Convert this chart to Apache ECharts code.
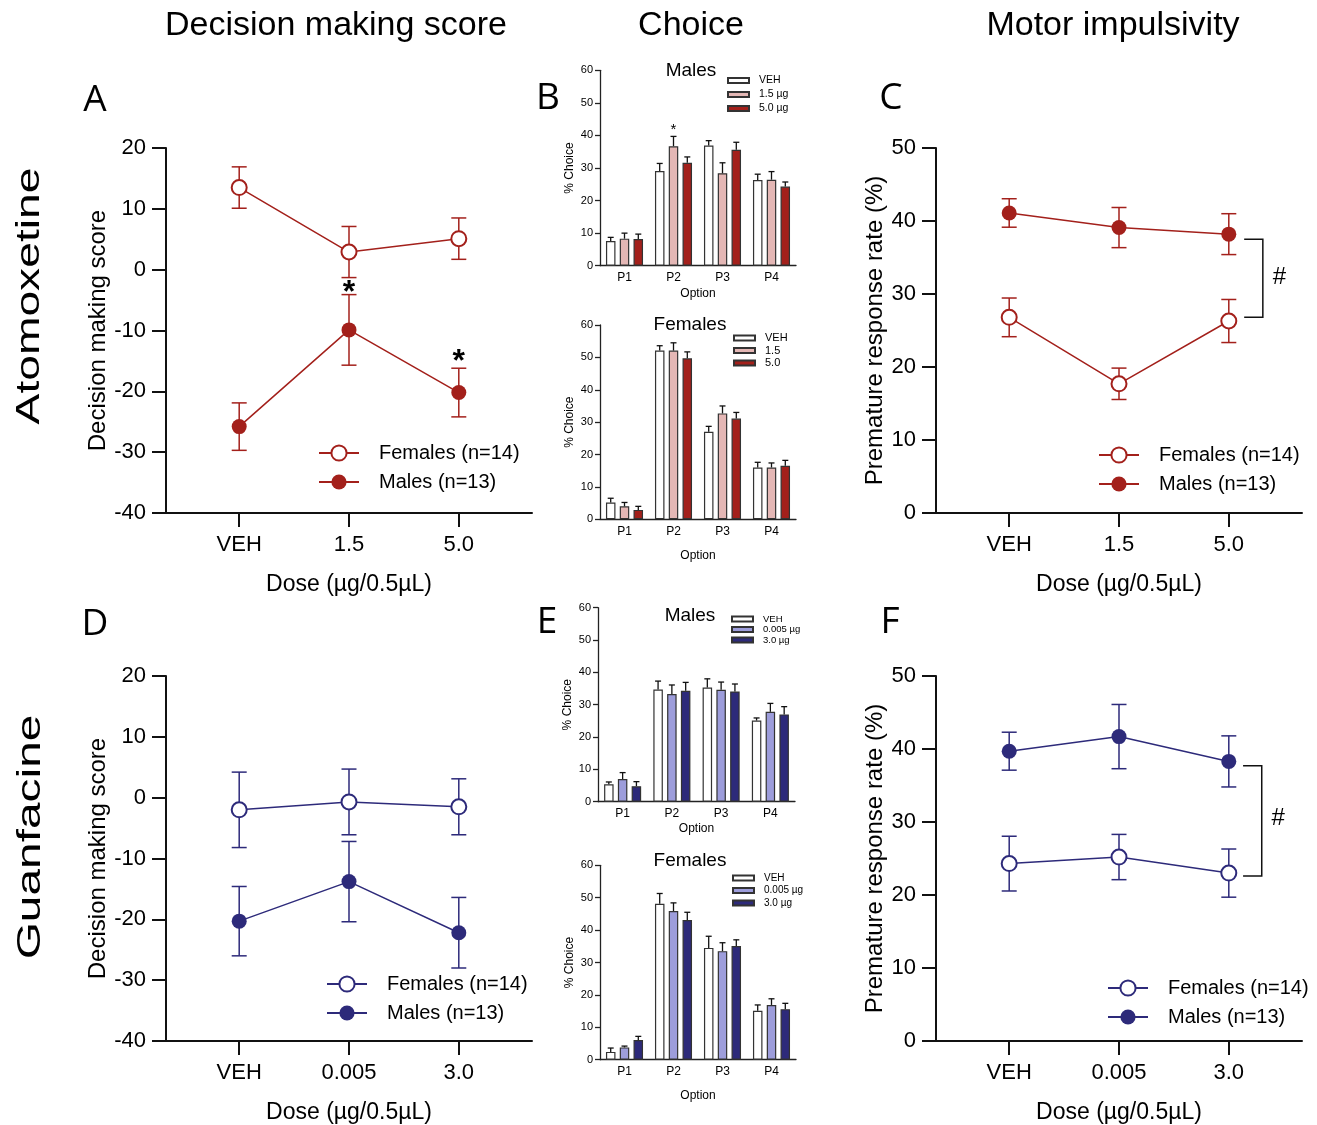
<!DOCTYPE html>
<html><head><meta charset="utf-8">
<script src="https://cdn.jsdelivr.net/npm/echarts@6/dist/echarts.min.js"></script>
<style>html,body{margin:0;padding:0;background:#fff}#c{width:1317px;height:1125px}</style>
</head><body><div id="c"></div>
<script>
// ---------- DATA ----------
const atxDoses = ['VEH', '1.5', '5.0'];
const gfcDoses = ['VEH', '0.005', '3.0'];
const optionCats = ['P1', 'P2', 'P3', 'P4'];
const dmsTicks = [-40, 20, 10];   // min, max, interval
const prTicks = [0, 50, 10];
const choiceTicks = [0, 60, 10];

// A: Atomoxetine decision making score
const atxDmsFemMean = [13.5, 2.9, 5.1];
const atxDmsFemSem = [3.4, 4.2, 3.4];
const atxDmsMaleMean = [-25.8, -9.9, -20.2];
const atxDmsMaleSem = [3.9, 5.8, 4.0];
// C: Atomoxetine premature response rate
const atxPrFemMean = [26.8, 17.7, 26.3];
const atxPrFemSem = [2.65, 2.15, 2.95];
const atxPrMaleMean = [41.1, 39.1, 38.2];
const atxPrMaleSem = [1.95, 2.75, 2.8];
// D: Guanfacine decision making score
const gfcDmsFemMean = [-2.0, -0.7, -1.5];
const gfcDmsFemSem = [6.2, 5.4, 4.6];
const gfcDmsMaleMean = [-20.3, -13.8, -22.2];
const gfcDmsMaleSem = [5.7, 6.6, 5.8];
// F: Guanfacine premature response rate
const gfcPrFemMean = [24.3, 25.2, 23.0];
const gfcPrFemSem = [3.75, 3.1, 3.3];
const gfcPrMaleMean = [39.7, 41.7, 38.3];
const gfcPrMaleSem = [2.6, 4.4, 3.5];

// B: Atomoxetine choice, males
const bMaleVeh = [7.6, 29.1, 36.9, 26.3];
const bMaleVehErr = [1.1, 2.3, 1.5, 1.8];
const bMaleLow = [8.3, 36.7, 28.4, 26.4];
const bMaleLowErr = [1.7, 3.0, 3.2, 2.5];
const bMaleHigh = [8.2, 31.6, 35.6, 24.3];
const bMaleHighErr = [1.5, 1.8, 2.3, 1.4];
// B: females
const bFemVeh = [5.2, 52.1, 27.0, 16.0];
const bFemVehErr = [1.3, 1.5, 1.7, 1.6];
const bFemLow = [4.0, 52.1, 32.7, 16.0];
const bFemLowErr = [1.2, 2.4, 2.3, 1.4];
const bFemHigh = [2.9, 49.7, 31.1, 16.5];
const bFemHighErr = [1.1, 2.0, 1.9, 1.7];
// E: Guanfacine choice, males
const eMaleVeh = [5.4, 34.7, 35.3, 25.1];
const eMaleVehErr = [0.7, 2.6, 2.7, 0.8];
const eMaleLow = [7.0, 33.3, 34.6, 27.8];
const eMaleLowErr = [2.0, 2.8, 2.4, 2.6];
const eMaleHigh = [4.8, 34.3, 34.1, 27.0];
const eMaleHighErr = [1.4, 2.6, 2.3, 2.4];
// E: females
const eFemVeh = [2.4, 48.1, 34.5, 15.1];
const eFemVehErr = [1.2, 3.2, 3.6, 1.8];
const eFemLow = [3.8, 45.9, 33.5, 16.9];
const eFemLowErr = [0.4, 2.5, 2.6, 1.9];
const eFemHigh = [6.1, 43.1, 35.1, 15.6];
const eFemHighErr = [1.1, 2.4, 1.9, 1.8];

// annotations (data coordinates)
const atxDmsStars = [[1, -2.8], [2, -14.3]];
const bMaleStar = [[1, 42.9]];
const atxPrBracket = [2.14, 37.5, 2.31, 26.8];
const atxPrHash = [2.46, 32.3];
const gfcPrBracket = [2.13, 37.7, 2.30, 22.6];
const gfcPrHash = [2.45, 30.5];

// ---------- STYLE ----------
const RED = '#A3201B', NAVY = '#2D2A7A', PINK = '#E4B7B5', LAV = '#9D9DDB', AX = '#111';
const FONT = '"Liberation Sans", Arial, sans-serif';

const grids = [], xAxes = [], yAxes = [], series = [], legends = [];
const LBL = {};

function lineGrid(left, top, doses, ticks, yName, yNameGap) {
  const gi = grids.length;
  grids.push({left: left, top: top, width: 366, height: 365});
  xAxes.push({
    gridIndex: gi, type: 'value', min: -2 / 3, max: 8 / 3,
    name: 'Dose (µg/0.5µL)', nameLocation: 'middle', nameGap: 60,
    nameTextStyle: {fontSize: 23, color: '#000', fontFamily: FONT},
    axisLine: {onZero: false, lineStyle: {color: AX, width: 2}},
    axisTick: {show: true, customValues: [0, 1, 2], length: 14, lineStyle: {color: AX, width: 2}},
    axisLabel: {customValues: [0, 1, 2], formatter: v => doses[Math.round(v)], fontSize: 22, color: '#000', margin: 21, fontFamily: FONT},
    splitLine: {show: false}
  });
  yAxes.push({
    gridIndex: gi, type: 'value', min: ticks[0], max: ticks[1], interval: ticks[2],
    name: yName, nameLocation: 'middle', nameGap: yNameGap,
    nameTextStyle: {fontSize: 24, color: '#000', fontFamily: FONT},
    axisLine: {show: true, onZero: false, lineStyle: {color: AX, width: 2}},
    axisTick: {show: true, length: 14, lineStyle: {color: AX, width: 2}},
    axisLabel: {fontSize: 22, color: '#000', margin: 20, fontFamily: FONT},
    splitLine: {show: false}
  });
  return gi;
}

function errLineRender(color) {
  return function (params, api) {
    const x = api.value(0), m = api.value(1), s = api.value(2);
    const t = api.coord([x, m + s]), b = api.coord([x, m - s]);
    const st = {stroke: color, lineWidth: 1.5};
    const cap = 7.5;
    return {type: 'group', children: [
      {type: 'line', shape: {x1: t[0], y1: t[1], x2: b[0], y2: b[1]}, style: st},
      {type: 'line', shape: {x1: t[0] - cap, y1: t[1], x2: t[0] + cap, y2: t[1]}, style: st},
      {type: 'line', shape: {x1: b[0] - cap, y1: b[1], x2: b[0] + cap, y2: b[1]}, style: st}
    ]};
  };
}

function addLines(gi, fm, fs, mm, ms, color, key) {
  series.push({type: 'custom', xAxisIndex: gi, yAxisIndex: gi, z: 1, silent: true,
    renderItem: errLineRender(color), encode: {x: 0, y: 1},
    data: fm.map((v, i) => [i, v, fs[i]])});
  series.push({type: 'custom', xAxisIndex: gi, yAxisIndex: gi, z: 1, silent: true,
    renderItem: errLineRender(color), encode: {x: 0, y: 1},
    data: mm.map((v, i) => [i, v, ms[i]])});
  series.push({type: 'line', name: key + 'F', xAxisIndex: gi, yAxisIndex: gi, z: 3,
    data: fm.map((v, i) => [i, v]), symbol: 'emptyCircle', symbolSize: 15,
    lineStyle: {color: color, width: 1.5}, itemStyle: {color: color, borderWidth: 1.5}});
  series.push({type: 'line', name: key + 'M', xAxisIndex: gi, yAxisIndex: gi, z: 3,
    data: mm.map((v, i) => [i, v]), symbol: 'circle', symbolSize: 15,
    lineStyle: {color: color, width: 1.5}, itemStyle: {color: color}});
  LBL[key + 'F'] = 'Females (n=14)';
  LBL[key + 'M'] = 'Males (n=13)';
}

function lineLegend(key, left, top) {
  legends.push({
    left: left, top: top, padding: 0, orient: 'vertical', itemWidth: 40, itemHeight: 19, itemGap: 9,
    selectedMode: false, data: [key + 'F', key + 'M'],
    formatter: n => '{t|' + LBL[n] + '}',
    textStyle: {fontSize: 20, color: '#000', fontFamily: FONT,
      rich: {t: {fontSize: 20, color: '#000', fontFamily: FONT, padding: [0, 0, 0, 15]}}}
  });
}

function barGrid(left, top, width, height, xNameGap) {
  const gi = grids.length;
  grids.push({left: left, top: top, width: width, height: height});
  xAxes.push({
    gridIndex: gi, type: 'category', data: optionCats, boundaryGap: true,
    name: 'Option', nameLocation: 'middle', nameGap: xNameGap,
    nameTextStyle: {fontSize: 12, color: '#000', fontFamily: FONT},
    axisLine: {onZero: false, lineStyle: {color: '#222', width: 1.3}},
    axisTick: {alignWithLabel: true, length: 4, lineStyle: {color: '#222', width: 1.3}},
    axisLabel: {fontSize: 12, color: '#000', margin: 6, fontFamily: FONT},
    splitLine: {show: false}
  });
  yAxes.push({
    gridIndex: gi, type: 'value', min: choiceTicks[0], max: choiceTicks[1], interval: choiceTicks[2],
    name: '% Choice', nameLocation: 'middle', nameGap: 24,
    nameTextStyle: {fontSize: 12, color: '#000', fontFamily: FONT},
    axisLine: {show: true, onZero: false, lineStyle: {color: '#222', width: 1.3}},
    axisTick: {show: true, length: 5, lineStyle: {color: '#222', width: 1.3}},
    axisLabel: {fontSize: 11, color: '#000', margin: 7, fontFamily: FONT},
    splitLine: {show: false}
  });
  return gi;
}

const BAR_W = 9.5, BAR_STEP = 13.8;
function errBarRender(off) {
  return function (params, api) {
    const c = api.value(0), m = api.value(1), e = api.value(2);
    const p0 = api.coord([c, m]), p1 = api.coord([c, m + e]);
    const x = p0[0] + off;
    const st = {stroke: '#111', lineWidth: 1.3};
    return {type: 'group', children: [
      {type: 'line', shape: {x1: x, y1: p0[1], x2: x, y2: p1[1]}, style: st},
      {type: 'line', shape: {x1: x - 3, y1: p1[1], x2: x + 3, y2: p1[1]}, style: st}
    ]};
  };
}

function addBars(gi, key, vals, errs, colors, labels) {
  vals.forEach((arr, k) => {
    const name = key + k;
    LBL[name] = labels[k];
    series.push({type: 'bar', name: name, xAxisIndex: gi, yAxisIndex: gi, data: arr,
      barWidth: BAR_W, barGap: '45%', z: 2,
      itemStyle: {color: colors[k], borderColor: '#333', borderWidth: 1.2}});
    series.push({type: 'custom', xAxisIndex: gi, yAxisIndex: gi, z: 3, silent: true,
      renderItem: errBarRender((k - 1) * BAR_STEP), encode: {x: 0, y: 1},
      data: arr.map((v, i) => [i, v, errs[k][i]])});
  });
}

function barLegend(key, left, top, fs, gap) {
  legends.push({
    left: left, top: top, padding: 0, orient: 'vertical', itemWidth: 21, itemHeight: 5, itemGap: gap,
    icon: 'rect', selectedMode: false, data: [key + 0, key + 1, key + 2],
    formatter: n => '{t|' + LBL[n] + '}',
    textStyle: {fontSize: fs, color: '#000', fontFamily: FONT,
      rich: {t: {fontSize: fs, color: '#000', fontFamily: FONT, padding: [0, 0, 0, 5]}}}
  });
}

function textRender(txt, size, weight, dy) {
  return function (params, api) {
    const p = api.coord([api.value(0), api.value(1)]);
    return {type: 'text', x: p[0], y: p[1] + dy,
      style: {text: txt, fontSize: size, fontWeight: weight, fontFamily: FONT, fill: '#000',
        textAlign: 'center', textVerticalAlign: 'middle'}};
  };
}
function addText(gi, pts, txt, size, weight, dy) {
  series.push({type: 'custom', xAxisIndex: gi, yAxisIndex: gi, z: 5, silent: true,
    renderItem: textRender(txt, size, weight, dy), encode: {x: 0, y: 1}, data: pts});
}
function addBracket(gi, b) {
  series.push({type: 'custom', xAxisIndex: gi, yAxisIndex: gi, z: 5, silent: true,
    encode: {x: [0, 2], y: [1, 3]}, data: [b],
    renderItem: function (params, api) {
      const a = api.coord([api.value(0), api.value(1)]);
      const c = api.coord([api.value(2), api.value(3)]);
      return {type: 'polyline', shape: {points: [[a[0], a[1]], [c[0], a[1]], [c[0], c[1]], [a[0], c[1]]]},
        style: {stroke: '#111', lineWidth: 1.5, fill: null}};
    }});
}

// ----- Panel A -----
const gA = lineGrid(166, 148, atxDoses, dmsTicks, 'Decision making score', 52);
addLines(gA, atxDmsFemMean, atxDmsFemSem, atxDmsMaleMean, atxDmsMaleSem, RED, 'A');
addText(gA, atxDmsStars, '*', 32, 'bold', 6);
lineLegend('A', 318, 443);
// ----- Panel C -----
const gC = lineGrid(936, 148, atxDoses, prTicks, 'Premature response rate (%)', 43);
addLines(gC, atxPrFemMean, atxPrFemSem, atxPrMaleMean, atxPrMaleSem, RED, 'C');
addBracket(gC, atxPrBracket);
addText(gC, [atxPrHash], '#', 24, 'normal', 0);
lineLegend('C', 1098, 445);
// ----- Panel D -----
const gD = lineGrid(166, 676, gfcDoses, dmsTicks, 'Decision making score', 52);
addLines(gD, gfcDmsFemMean, gfcDmsFemSem, gfcDmsMaleMean, gfcDmsMaleSem, NAVY, 'D');
lineLegend('D', 326, 974);
// ----- Panel F -----
const gF = lineGrid(936, 676, gfcDoses, prTicks, 'Premature response rate (%)', 43);
addLines(gF, gfcPrFemMean, gfcPrFemSem, gfcPrMaleMean, gfcPrMaleSem, NAVY, 'F');
addBracket(gF, gfcPrBracket);
addText(gF, [gfcPrHash], '#', 24, 'normal', 0);
lineLegend('F', 1107, 978);

// ----- Panel B -----
const gBM = barGrid(600, 70.3, 196, 195.4, 22);
addBars(gBM, 'BM', [bMaleVeh, bMaleLow, bMaleHigh], [bMaleVehErr, bMaleLowErr, bMaleHighErr],
  ['#ffffff', PINK, RED], ['VEH', '1.5 µg', '5.0 µg']);
addText(gBM, bMaleStar, '*', 15, 'normal', 4);
barLegend('BM', 727, 75, 10.5, 3);
const gBF = barGrid(600, 325, 196, 194.3, 30);
addBars(gBF, 'BF', [bFemVeh, bFemLow, bFemHigh], [bFemVehErr, bFemLowErr, bFemHighErr],
  ['#ffffff', PINK, RED], ['VEH', '1.5', '5.0']);
barLegend('BF', 733, 332.5, 11, 1.5);
// ----- Panel E -----
const gEM = barGrid(598, 607.7, 197, 194, 21);
addBars(gEM, 'EM', [eMaleVeh, eMaleLow, eMaleHigh], [eMaleVehErr, eMaleLowErr, eMaleHighErr],
  ['#ffffff', LAV, NAVY], ['VEH', '0.005 µg', '3.0 µg']);
barLegend('EM', 731, 614, 9.5, 0.5);
const gEF = barGrid(600, 865.3, 196, 194.4, 30);
addBars(gEF, 'EF', [eFemVeh, eFemLow, eFemHigh], [eFemVehErr, eFemLowErr, eFemHighErr],
  ['#ffffff', LAV, NAVY], ['VEH', '0.005 µg', '3.0 µg']);
barLegend('EF', 732, 873, 10, 2.5);

// ---------- static text ----------
function txt(t, x, y, size, opts) {
  opts = opts || {};
  return {type: 'text', x: x, y: y, rotation: opts.rot || 0, scaleX: opts.sx || 1, z: 10,
    style: {text: t, fontSize: size, fontFamily: opts.font || FONT, fill: '#000',
      textAlign: 'center', textVerticalAlign: 'middle'}};
}
const LETTER_FONT = '"Liberation Sans Narrow", "Open Sans", sans-serif';
const graphics = [
  txt('Decision making score', 336, 26, 34),
  txt('Choice', 691, 26, 34),
  txt('Motor impulsivity', 1113, 26, 34),
  txt('Atomoxetine', 30, 296, 33, {rot: Math.PI / 2, sx: 1.4}),
  txt('Guanfacine', 31, 837, 33, {rot: Math.PI / 2, sx: 1.45}),
  txt('A', 95, 100, 37, {font: LETTER_FONT}),
  txt('B', 548, 98, 37, {font: LETTER_FONT}),
  txt('C', 891, 98, 37, {font: LETTER_FONT}),
  txt('D', 95, 624, 37, {font: LETTER_FONT}),
  txt('E', 547, 622, 37, {font: LETTER_FONT}),
  txt('F', 890, 622, 37, {font: LETTER_FONT}),
  txt('Males', 691, 71, 19),
  txt('Females', 690, 325, 19),
  txt('Males', 690, 616, 19),
  txt('Females', 690, 861, 19)
];

const chart = echarts.init(document.getElementById('c'), null, {renderer: 'canvas'});
chart.setOption({
  backgroundColor: '#fff',
  animation: false,
  textStyle: {fontFamily: FONT},
  grid: grids, xAxis: xAxes, yAxis: yAxes, series: series, legend: legends,
  graphic: graphics
});
</script></body></html>
